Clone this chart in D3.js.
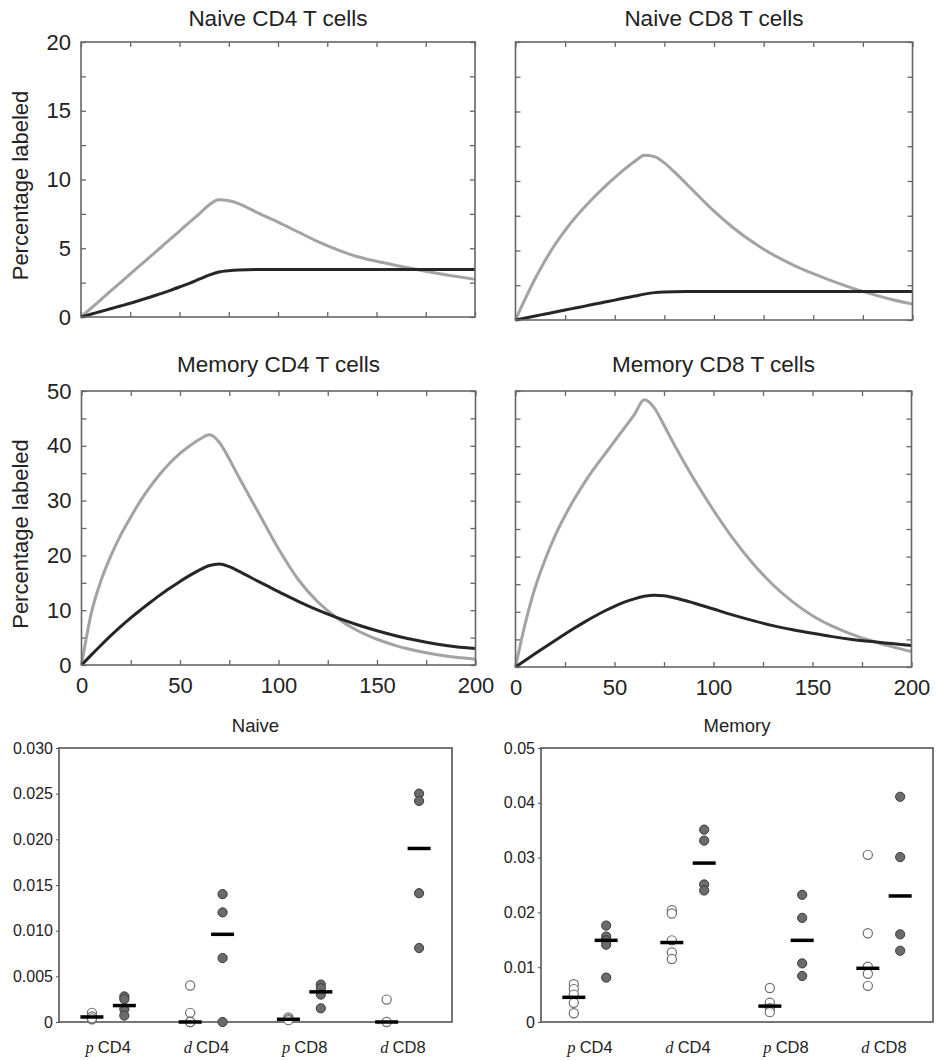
<!DOCTYPE html>
<html lang="en">
<head>
<meta charset="UTF-8">
<title>Labeled T cells</title>
<script src="https://d3js.org/d3.v7.min.js"></script>
<style>
  body { margin: 0; background: #fff; }
  svg text { font-family: "Liberation Sans", Arial, sans-serif; fill: #222; }
</style>
</head>
<body>
<svg id="chart" width="936" height="1061"></svg>
<script>
// time grid (days) shared by all model curves
const days = [0, 5, 10, 15, 20, 25, 30, 35, 40, 45, 50, 55, 60, 65, 70, 75, 80, 90, 100, 110, 120, 130, 140, 150, 160, 170, 180, 190, 200];

const naiveCD4Gray  = [0, 0.63, 1.25, 1.88, 2.5, 3.13, 3.75, 4.38, 5.0, 5.63, 6.25, 6.88, 7.5, 8.15, 8.52, 8.45, 8.25, 7.55, 6.9, 6.2, 5.5, 4.9, 4.4, 4.05, 3.75, 3.47, 3.2, 2.96, 2.74];
const naiveCD4Black = [0, 0.2, 0.4, 0.6, 0.8, 1.0, 1.22, 1.44, 1.68, 1.92, 2.18, 2.45, 2.75, 3.05, 3.27, 3.37, 3.42, 3.45, 3.45, 3.45, 3.45, 3.45, 3.45, 3.45, 3.45, 3.45, 3.45, 3.45, 3.45];
const naiveCD8Gray  = [0, 1.55, 3.0, 4.3, 5.45, 6.45, 7.35, 8.15, 8.9, 9.6, 10.25, 10.85, 11.4, 11.85, 11.75, 11.3, 10.65, 9.24, 7.83, 6.6, 5.55, 4.68, 3.95, 3.33, 2.78, 2.28, 1.84, 1.46, 1.15];
const naiveCD8Black = [0, 0.14, 0.29, 0.43, 0.57, 0.72, 0.86, 1.0, 1.15, 1.29, 1.43, 1.58, 1.72, 1.86, 1.97, 2.02, 2.04, 2.05, 2.05, 2.05, 2.05, 2.05, 2.05, 2.05, 2.05, 2.05, 2.05, 2.05, 2.05];
const memCD4Gray    = [0, 9.5, 15.5, 20, 23.8, 27, 30, 32.6, 34.9, 36.9, 38.6, 40.0, 41.2, 42, 40.6, 37.6, 34.2, 27.7, 21.2, 15.6, 11.5, 8.5, 6.3, 4.7, 3.5, 2.6, 1.9, 1.4, 1.05];
const memCD4Black   = [0, 1.85, 3.65, 5.4, 7.05, 8.6, 10.05, 11.45, 12.8, 14.05, 15.25, 16.35, 17.35, 18.15, 18.45, 17.95, 17.1, 15.2, 13.4, 11.6, 10.0, 8.6, 7.35, 6.25, 5.3, 4.5, 3.85, 3.35, 3.0];
const memCD8Gray    = [0, 8, 14.5, 19.5, 23.8, 27.4, 30.6, 33.5, 36.1, 38.5, 40.9, 43.3, 45.7, 48.4, 47.0, 43.8, 40.4, 34.1, 28.4, 23.2, 18.7, 14.9, 11.8, 9.3, 7.4, 5.9, 4.7, 3.7, 2.8];
const memCD8Black   = [0, 1.22, 2.44, 3.64, 4.82, 5.98, 7.1, 8.18, 9.2, 10.15, 11.0, 11.75, 12.35, 12.8, 13.0, 12.9, 12.55, 11.6, 10.5, 9.4, 8.4, 7.5, 6.75, 6.1, 5.5, 5.0, 4.6, 4.25, 3.9];

// scatter panels
const groups = ["p|CD4", "d|CD4", "p|CD8", "d|CD8"];

const naiveOpen   = [[0.001, 0.0006, 0.0003, 0.0004], [0.004, 0.001, 0, 0], [0.0005, 0.0003, 0.0002], [0.00245, 0]];
const naiveFilled = [[0.0028, 0.0025, 0.0014, 0.0007], [0.014, 0.012, 0.007, 0], [0.0041, 0.0037, 0.003, 0.0015], [0.025, 0.0242, 0.0141, 0.0081]];
const naiveOpenMed   = [0.00055, 0, 0.0003, 0];
const naiveFilledMed = [0.0018, 0.0096, 0.0033, 0.019];

const memOpen   = [[0.0069, 0.006, 0.005, 0.0035, 0.0016], [0.0204, 0.0198, 0.0149, 0.0127, 0.0115], [0.0062, 0.0035, 0.0025, 0.0018], [0.0305, 0.0162, 0.0101, 0.0088, 0.0066]];
const memFilled = [[0.0176, 0.0156, 0.0149, 0.0141, 0.0081], [0.0351, 0.0331, 0.0251, 0.024], [0.0232, 0.019, 0.0107, 0.0084], [0.0411, 0.0301, 0.016, 0.013]];
const memOpenMed   = [0.0045, 0.0145, 0.0029, 0.0098];
const memFilledMed = [0.0149, 0.029, 0.0149, 0.023];

const svg = d3.select("#chart");

function linePanel(o) {
  const g = svg.append("g");
  const x = d3.scaleLinear().domain([0, 200]).range([o.x0, o.x0 + o.w]);
  const y = d3.scaleLinear().domain([0, o.yMax]).range([o.y0 + o.h, o.y0]);
  const yTicks = d3.range(0, o.yMax + 0.001, o.yMinor);
  const xTicks = d3.range(0, 201, 25);
  const yFmt = d => (o.yLabels && d % o.yMajor === 0) ? d : "";
  const xFmt = d => (o.xLabels && d % 50 === 0) ? d : "";

  // ticks point inward on all four sides
  g.append("g").attr("transform", `translate(${o.x0},0)`)
    .call(d3.axisLeft(y).tickValues(yTicks).tickSize(-5).tickPadding(10).tickFormat(yFmt));
  g.append("g").attr("transform", `translate(${o.x0 + o.w},0)`)
    .call(d3.axisRight(y).tickValues(yTicks).tickSize(-5).tickFormat(""));
  g.append("g").attr("transform", `translate(0,${o.y0 + o.h})`)
    .call(d3.axisBottom(x).tickValues(xTicks).tickSize(-5).tickPadding(12).tickFormat(xFmt));
  g.append("g").attr("transform", `translate(0,${o.y0})`)
    .call(d3.axisTop(x).tickValues(xTicks).tickSize(-5).tickFormat(""));
  g.selectAll(".domain").remove();
  g.selectAll(".tick text").style("font-size", "22px").style("font-family", "Liberation Sans, Arial, sans-serif").attr("fill", "#222");
  g.selectAll(".tick line").attr("stroke", "#666").attr("stroke-width", 1.3);

  const line = d3.line().x((d, i) => x(days[i])).y(d => y(d)).curve(d3.curveMonotoneX);
  g.append("path").datum(o.gray).attr("fill", "none").attr("stroke", "#a3a3a3").attr("stroke-width", 3).attr("d", line);
  g.append("path").datum(o.black).attr("fill", "none").attr("stroke", "#262626").attr("stroke-width", 3).attr("d", line);

  g.append("rect").attr("x", o.x0).attr("y", o.y0).attr("width", o.w).attr("height", o.h)
    .attr("fill", "none").attr("stroke", "#666").attr("stroke-width", 1.6);

  g.append("text").attr("x", o.x0 + o.w / 2).attr("y", o.titleY).attr("text-anchor", "middle")
    .style("font-size", "22.5px").text(o.title);

  if (o.yLabels) {
    g.append("text").attr("transform", `translate(28,${o.y0 + o.h / 2 + 6}) rotate(-90)`)
      .attr("text-anchor", "middle").style("font-size", "22px").text("Percentage labeled");
  }
}

linePanel({x0: 81, y0: 42, w: 394, h: 275, yMax: 20, yMinor: 2.5, yMajor: 5, yLabels: true, xLabels: false,
  gray: naiveCD4Gray, black: naiveCD4Black, title: "Naive CD4 T cells", titleY: 26});
linePanel({x0: 515.5, y0: 42, w: 397, h: 278, yMax: 20, yMinor: 2.5, yMajor: 5, yLabels: false, xLabels: false,
  gray: naiveCD8Gray, black: naiveCD8Black, title: "Naive CD8 T cells", titleY: 26});
linePanel({x0: 81.5, y0: 391, w: 394, h: 274, yMax: 50, yMinor: 5, yMajor: 10, yLabels: true, xLabels: true,
  gray: memCD4Gray, black: memCD4Black, title: "Memory CD4 T cells", titleY: 372});
linePanel({x0: 515.5, y0: 391, w: 396, h: 276, yMax: 50, yMinor: 5, yMajor: 10, yLabels: false, xLabels: true,
  gray: memCD8Gray, black: memCD8Black, title: "Memory CD8 T cells", titleY: 372});

function dotPanel(o) {
  const g = svg.append("g");
  const x = d3.scaleBand().domain(groups).range([o.x0, o.x0 + o.w]).padding(0);
  const y = d3.scaleLinear().domain([0, o.yMax]).range([o.y0 + o.h, o.y0]);
  const off = x.bandwidth() * 0.165;

  g.append("g").attr("transform", `translate(${o.x0},0)`)
    .call(d3.axisLeft(y).tickValues(d3.range(0, o.yMax + 1e-9, o.yStep)).tickSize(3).tickPadding(3)
      .tickFormat(d => d === 0 ? "0" : d3.format(o.fmt)(d)));
  g.selectAll(".domain").remove();
  g.selectAll(".tick text").style("font-size", "16px").attr("fill", "#222");
  g.selectAll(".tick line").attr("stroke", "#555");

  g.append("rect").attr("x", o.x0).attr("y", o.y0).attr("width", o.w).attr("height", o.h)
    .attr("fill", "none").attr("stroke", "#555").attr("stroke-width", 1.6);

  groups.forEach((grp, i) => {
    const cx = x(grp) + x.bandwidth() / 2;
    g.selectAll(null).data(o.open[i]).join("circle")
      .attr("cx", cx - off).attr("cy", d => y(d)).attr("r", 4.6)
      .attr("fill", "#fff").attr("stroke", "#6e6e6e").attr("stroke-width", 1.2);
    g.selectAll(null).data(o.filled[i]).join("circle")
      .attr("cx", cx + off).attr("cy", d => y(d)).attr("r", 4.6)
      .attr("fill", "#6b6b6b").attr("stroke", "#3a3a3a").attr("stroke-width", 1);
    // median bars
    [[o.openMed[i], -off], [o.filledMed[i], off]].forEach(([m, dx]) => {
      g.append("line").attr("x1", cx + dx - 11.5).attr("x2", cx + dx + 11.5)
        .attr("y1", y(m)).attr("y2", y(m)).attr("stroke", "#000").attr("stroke-width", 3.5);
    });
    const [it, rest] = grp.split("|");
    const t = g.append("text").attr("x", cx).attr("y", 1053).attr("text-anchor", "middle").style("font-size", "16.5px");
    t.append("tspan").style("font-family", "Liberation Serif, Times New Roman, serif").style("font-style", "italic").text(it + " ");
    t.append("tspan").text(rest);
  });

  g.append("text").attr("x", o.x0 + o.w / 2).attr("y", 732).attr("text-anchor", "middle")
    .style("font-size", "18.5px").text(o.title);
}

dotPanel({x0: 59, y0: 748, w: 393, h: 274, yMax: 0.03, yStep: 0.005, fmt: ".3f", title: "Naive",
  open: naiveOpen, filled: naiveFilled, openMed: naiveOpenMed, filledMed: naiveFilledMed});
dotPanel({x0: 541, y0: 748, w: 392, h: 274, yMax: 0.05, yStep: 0.01, fmt: ".2f", title: "Memory",
  open: memOpen, filled: memFilled, openMed: memOpenMed, filledMed: memFilledMed});
</script>
</body>
</html>
